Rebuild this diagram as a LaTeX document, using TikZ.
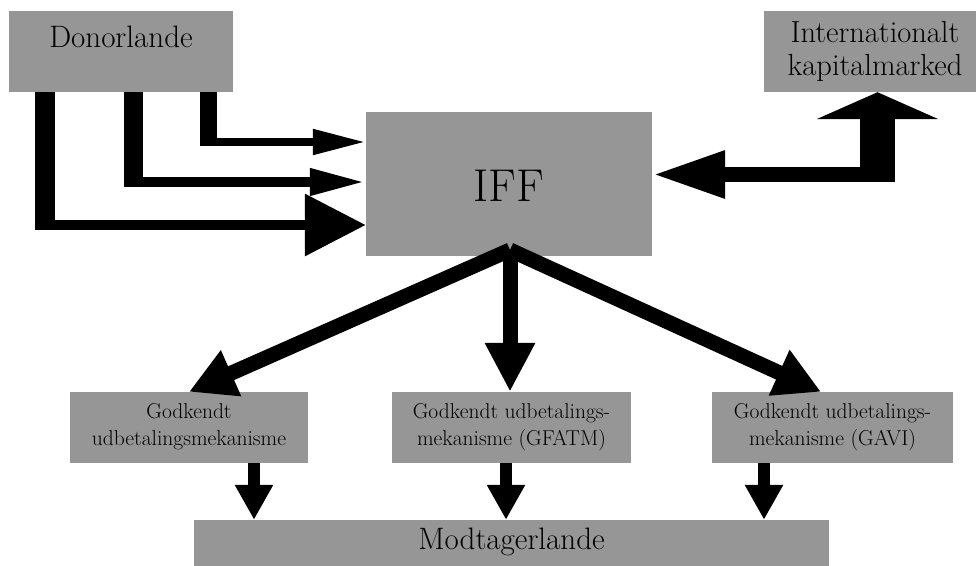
\documentclass[tikz,border=0pt]{standalone}
\usepackage{fontspec}
\usetikzlibrary{arrows.meta}
\definecolor{boxgray}{RGB}{150,150,150}
\begin{document}
\begin{tikzpicture}[x=1pt,y=-1pt,
  box/.style={fill=boxgray, draw=none, inner sep=0pt, rectangle},
  lbl/.style={inner sep=0pt, align=center, text=black},
  flow/.style={draw=black, line cap=butt, line join=miter},
]
\useasboundingbox (0,0) rectangle (976,565);

% boxes
\node[box, minimum width=224pt, minimum height=81pt] (donor) at (121,51.5) {};
\node[lbl, font=\fontsize{31}{34}\selectfont] (donortxt) at (121,37) {Donorlande};
\node[box, minimum width=286pt, minimum height=144pt] (iff) at (509,184) {};
\node[lbl, font=\fontsize{46}{50}\selectfont] (ifftxt) at (509,186) {IFF};
\node[box, minimum width=212pt, minimum height=81pt] (intl) at (870,51.5) {};
\node[lbl, font=\fontsize{30.5}{33}\selectfont] (intltxt) at (875,51) {Internationalt\\kapitalmarked};

\node[box, minimum width=238pt, minimum height=71pt] (g1) at (189,427.5) {};
\node[lbl, font=\fontsize{21.5}{27}\selectfont] (g1txt) at (189,427) {Godkendt\\udbetalingsmekanisme};
\node[box, minimum width=239pt, minimum height=71pt] (g2) at (511.5,427.5) {};
\node[lbl, font=\fontsize{21.5}{27}\selectfont] (g2txt) at (511.5,427) {Godkendt udbetalings-\\mekanisme (GFATM)};
\node[box, minimum width=241pt, minimum height=71pt] (g3) at (832.5,427.5) {};
\node[lbl, font=\fontsize{21.5}{27}\selectfont] (g3txt) at (832.5,427) {Godkendt udbetalings-\\mekanisme (GAVI)};

\node[box, minimum width=635pt, minimum height=46pt] (recv) at (511.5,543) {};
\node[lbl, font=\fontsize{31}{34}\selectfont] (recvtxt) at (511.5,542) {Modtagerlande};

% donor legs
\coordinate (v1) at (45,0);  \coordinate (h1) at (0,225);
\coordinate (v2) at (133.5,0); \coordinate (h2) at (0,182);
\coordinate (v3) at (208.5,0); \coordinate (h3) at (0,142);
\draw[flow, line width=20pt] (donor.south -| v1) -- ++(0,138);
\draw[flow, line width=10pt, -{Triangle[length=61pt,width=60pt]}] (35,225) -- (iff.west |- h1);
\draw[flow, line width=19pt] (donor.south -| v2) -- ++(0,95);
\draw[flow, line width=10pt, -{Triangle[length=56pt,width=25pt]}] (124,182) -- (iff.west |- h2);
\draw[flow, line width=17pt] (donor.south -| v3) -- ++(0,54);
\draw[flow, line width=8pt, -{Triangle[length=53pt,width=24pt]}] (200,142) -- (iff.west |- h3);

% capital market double arrow
\coordinate (hm) at (0,174.5);
\coordinate (vm) at (877.5,0);
\coordinate (mc) at (877.5,182);
\draw[flow, line width=15pt, -{Triangle[length=73pt,width=44pt]}] (895,174.5) -- (iff.east |- hm);
\draw[flow, line width=35pt, -{Triangle[length=27pt,width=121pt]}] (mc) -- (intl.south -| vm);

% IFF to mechanisms
\coordinate (split) at (510,250);
\coordinate (t3) at (821,0);
\draw[flow, line width=15pt, -{Triangle[length=46pt,width=47pt]}] (split) -- (g1.north);
\draw[flow, line width=15pt, -{Triangle[length=49pt,width=47pt]}] (split) -- (g2.north -| split);
\draw[flow, line width=15pt, -{Triangle[length=46pt,width=47pt]}] (split) -- (g3.north -| t3);

% mechanisms to recipients
\coordinate (s1) at (254,0);
\coordinate (s2) at (506,0);
\coordinate (s3) at (764,0);
\draw[flow, line width=12pt, -{Triangle[length=35pt,width=36pt]}] (g1.south -| s1) -- (recv.north -| s1);
\draw[flow, line width=12pt, -{Triangle[length=35pt,width=36pt]}] (g2.south -| s2) -- (recv.north -| s2);
\draw[flow, line width=12pt, -{Triangle[length=35pt,width=36pt]}] (g3.south -| s3) -- (recv.north -| s3);
\end{tikzpicture}
\end{document}
